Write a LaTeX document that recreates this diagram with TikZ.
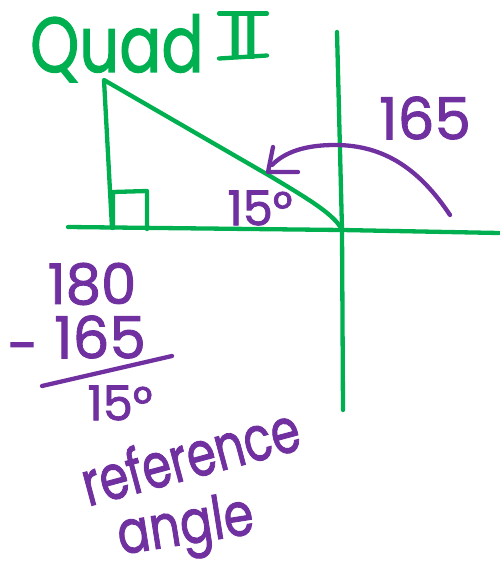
\documentclass[tikz,border=0pt]{standalone}
\usepackage{fontspec}
\setmainfont{Poppins}
\newfontfamily\hand{Poppins}[FakeBold=1.6]
\definecolor{qgreen}{RGB}{0,176,80}
\definecolor{qpurple}{RGB}{112,48,160}
\begin{document}
\begin{tikzpicture}[x=1pt,y=-1pt,
  axis/.style={qgreen,line width=4.3pt,line cap=round,line join=round},
  pen/.style={qpurple,line width=4.3pt,line cap=round,line join=round},
  gtext/.style={text=qgreen,inner sep=0pt},
  ptext/.style={text=qpurple,inner sep=0pt}]
\useasboundingbox[fill=white] (0,0) rectangle (499,569);
% title
\node[gtext,font=\hand\fontsize{78}{78}\selectfont,anchor=base west] (quad) at (30,72) {\scalebox{0.8}[1]{Quad}};
\node[gtext,font=\hand\fontsize{64}{64}\selectfont,anchor=center] (two) at (243,36) {II};
\draw[axis] ([xshift=-8pt]two.north west) -- ([xshift=8pt]two.north east);
\draw[axis] ([xshift=-8pt]two.south west) -- ([xshift=8pt,yshift=3pt]two.south east);
% axes
\coordinate (ytop) at (337,32);
\coordinate (ybot) at (343,410);
\coordinate (xl) at (68,227);
\coordinate (xr) at (499,233);
\coordinate (O) at (342,230);
\draw[axis] (ytop) -- (O) -- (ybot);
\draw[axis] (xl) -- (O) -- (xr);
% triangle
\coordinate (A) at (104,80);
\coordinate (B) at (112,228);
\coordinate (H) at (270,176);
\draw[axis] (O) .. controls (335,215) and (310,200) .. (H) -- (A) -- (B);
\draw[axis] (113,228) -- (113,192) -- (147,191) -- (147,229);
% arc with arrow
\coordinate (arcS) at (450,215);
\coordinate (tip) at (268,172);
\coordinate (tipU) at (273,147);
\coordinate (tipR) at (298,172);
\draw[pen] (arcS) .. controls (420,170) and (385,145) .. (335,145) .. controls (305,145) and (285,152) .. (272,165);
\draw[pen] (tipU) -- (tip) -- (tipR);
\node[ptext,font=\hand\fontsize{58}{58}\selectfont] (l165) at (425,118) {165};
\node[ptext,font=\hand\fontsize{48}{48}\selectfont] (l15a) at (260,208) {15°};
% subtraction
\node[ptext,font=\hand\fontsize{56}{56}\selectfont] (n180) at (92,284) {180};
\node[ptext,font=\hand\fontsize{56}{56}\selectfont] (minus) at (23,354) {-};
\node[ptext,font=\hand\fontsize{58}{58}\selectfont] (n165) at (100,337) {165};
\coordinate (barL) at (42,386);
\coordinate (barR) at (172,356);
\draw[pen] (barL) -- (barR);
\node[ptext,font=\hand\fontsize{48}{48}\selectfont] (n15) at (120,403) {15°};
\node[ptext,font=\hand\fontsize{62}{62}\selectfont,rotate=15] (ref) at (190,455) {\scalebox{0.75}[1]{reference}};
\node[ptext,font=\hand\fontsize{60}{60}\selectfont,rotate=9] (ang) at (186,530) {\scalebox{0.8}[1]{angle}};
\end{tikzpicture}
\end{document}
